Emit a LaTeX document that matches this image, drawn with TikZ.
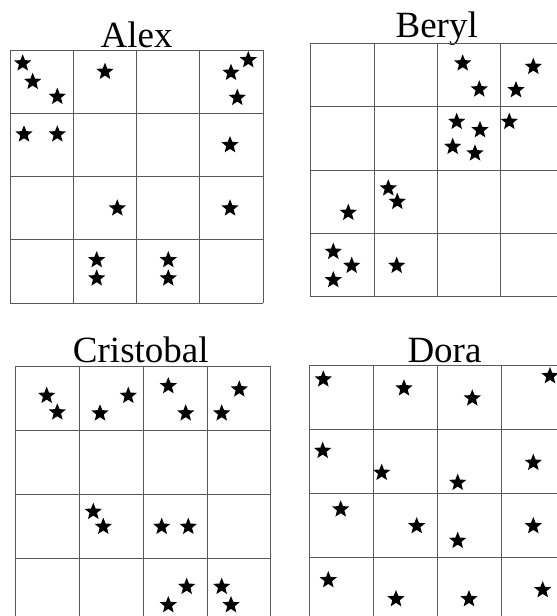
\documentclass[tikz,border=0pt]{standalone}
\usepackage{fontspec}
\setmainfont{Liberation Serif}
\usetikzlibrary{shapes.geometric}

% 4x4 cell grid: left, top, cell size
\newcommand{\stormgrid}[3]{%
  \begin{scope}[shift={(#1,#2)}]
    \foreach \k in {0,...,4} {
      \draw[gridline] (\k*#3,0) -- (\k*#3,4*#3);
      \draw[gridline] (0,\k*#3) -- (4*#3,\k*#3);
    }
  \end{scope}%
}

\begin{document}
\begin{tikzpicture}[
  x=1pt, y=-1pt,
  gridline/.style={draw=black!65, line width=1pt},
  storm/.style={
    star, star points=5, star point ratio=2.3,
    fill=black, draw=none, inner sep=0pt, minimum size=18pt,
  },
  title/.style={anchor=base, inner sep=0pt, font=\fontsize{37}{40}\selectfont},
]
  \useasboundingbox (0,0) rectangle (557,616);
  \clip (0,0) rectangle (557,616);

  % Alex
  \node[title] (alex) at (136.7,47) {Alex};
  \stormgrid{10}{50}{63.25}
  \foreach \sx/\sy [count=\n] in {22.7/63.3, 32.7/81.7, 57.3/96.7, 105/71.7,
      231/72.7, 248.3/60, 237.3/97.7, 24/134.3, 57.3/134.3, 230/145,
      117.3/208.3, 230/208.3, 96.7/260, 96.7/278.3, 168.3/260, 168.3/278.3}
    \node[storm] (a\n) at (\sx,\sy) {};

  % Beryl
  \node[title] (beryl) at (436.7,37) {Beryl};
  \stormgrid{310.7}{43.3}{63.35}
  \foreach \sx/\sy [count=\n] in {462.7/63.3, 479.3/89.3, 533.3/66.7, 516/90,
      456.7/121.7, 480/130, 509.3/121.7, 452.7/146.7, 475/153.3,
      388.3/188.3, 397.3/201.7, 348.3/212.7, 333.3/251.7, 351.7/265.7,
      333.3/280, 396.7/265.7}
    \node[storm] (b\n) at (\sx,\sy) {};

  % Cristobal
  \node[title] (cristobal) at (140.8,362.7) {Cristobal};
  \stormgrid{15.3}{366.7}{63.9}
  \foreach \sx/\sy [count=\n] in {46.7/395.7, 57.3/412.3, 100/413.3, 128.3/395.7,
      168.3/386, 185.7/413.3, 221.7/413.3, 239.3/389.3, 93.3/511.7,
      103.3/526.7, 161.7/526.7, 188.3/526.7, 186.7/586.7, 168.3/605,
      221.7/586.7, 231/605}
    \node[storm] (c\n) at (\sx,\sy) {};

  % Dora
  \node[title] (dora) at (444.5,362.7) {Dora};
  \stormgrid{309}{365.7}{64}
  \foreach \sx/\sy [count=\n] in {323.3/379.3, 404/388.3, 472.3/398.3, 550/376,
      322.7/450.7, 381.7/472.7, 457.7/482.7, 533.3/462.7, 340.7/509.3,
      416.7/526, 457.7/540.7, 533.3/526, 328.3/580, 396/599, 469/599,
      542.7/590}
    \node[storm] (d\n) at (\sx,\sy) {};
\end{tikzpicture}
\end{document}
